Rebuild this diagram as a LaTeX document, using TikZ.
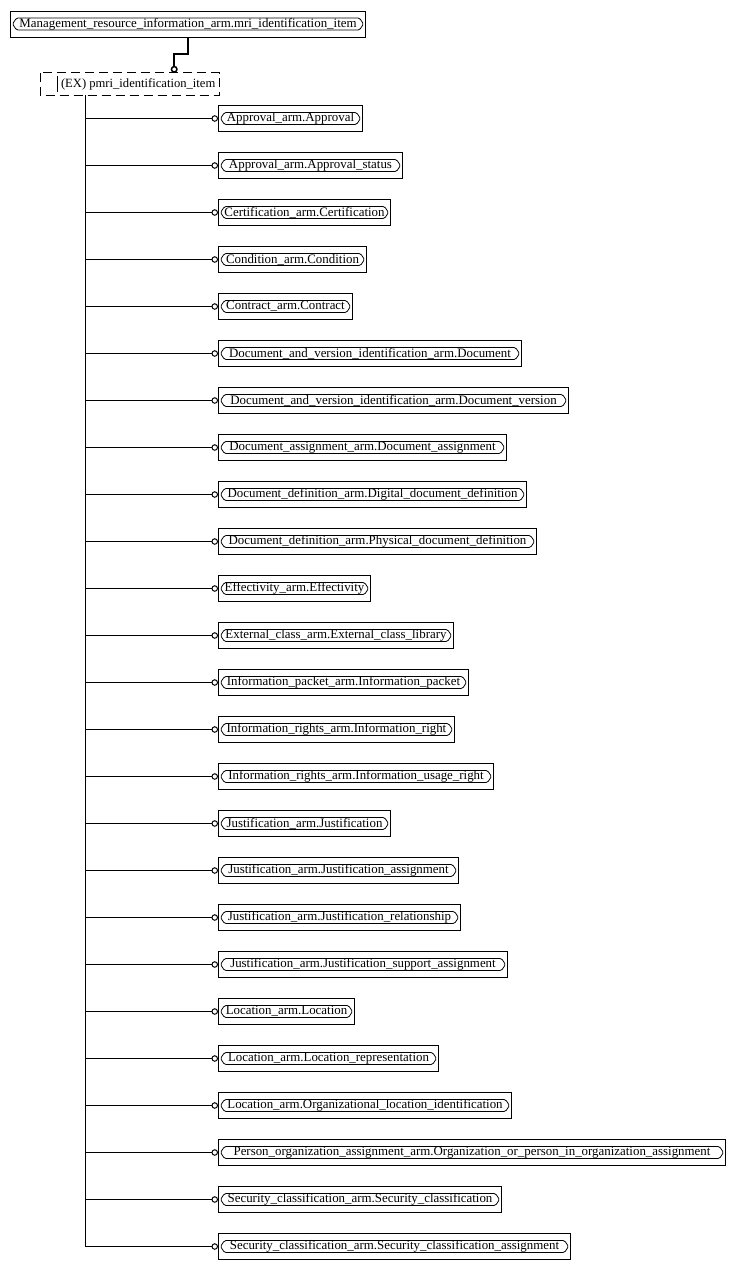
\documentclass[tikz,border=0pt]{standalone}
\usepackage{fontspec}
\setmainfont{Liberation Serif}
\usetikzlibrary{arrows.meta}

\begin{document}
\begin{tikzpicture}[x=1pt,y=-1pt]
			\tikzset{entity/.style={draw, rectangle, anchor=west, minimum height=26pt, inner sep=0pt, line width=1pt,
					font=\fontsize{12.9}{14}\selectfont,
					path picture={\draw[line width=0.8pt, rounded corners=1.5pt]
						([xshift=2pt]path picture bounding box.west) -- ([xshift=6pt,yshift=6pt]path picture bounding box.west)
						-- ([xshift=-6pt,yshift=6pt]path picture bounding box.east) -- ([xshift=-2pt]path picture bounding box.east)
						-- ([xshift=-6pt,yshift=-6pt]path picture bounding box.east) -- ([xshift=6pt,yshift=-6pt]path picture bounding box.west) -- cycle;}}}
			\tikzset{link/.style={line width=1pt, -{Circle[open, length=6.5pt, line width=1pt]}}}
			\useasboundingbox (0,0) rectangle (736,1269);
			%entities
			\node[entity, minimum width=355pt] (mri) at (10,24) {Management\_resource\_information\_arm.mri\_identification\_item};
			\node[anchor=west, inner sep=0pt, minimum width=162pt, minimum height=22pt, font=\fontsize{12.6}{14}\selectfont] (ex) at (57,84) {(EX) pmri\_identification\_item};
			\draw[line width=1pt, dash pattern=on 9pt off 5pt] ([xshift=-17pt]ex.north west) rectangle (ex.south east);
			\draw[line width=1pt] ([yshift=-3pt]ex.north west) -- ([yshift=3pt]ex.south west);
			\foreach \txt/\rt [count=\i, evaluate=\rt as \w using \rt-218] in {
					Approval\_arm.Approval/362,
					Approval\_arm.Approval\_status/402,
					Certification\_arm.Certification/390,
					Condition\_arm.Condition/366,
					Contract\_arm.Contract/352,
					Document\_and\_version\_identification\_arm.Document/521,
					Document\_and\_version\_identification\_arm.Document\_version/568,
					Document\_assignment\_arm.Document\_assignment/506,
					Document\_definition\_arm.Digital\_document\_definition/526,
					Document\_definition\_arm.Physical\_document\_definition/536,
					Effectivity\_arm.Effectivity/370,
					External\_class\_arm.External\_class\_library/453,
					Information\_packet\_arm.Information\_packet/468,
					Information\_rights\_arm.Information\_right/454,
					Information\_rights\_arm.Information\_usage\_right/493,
					Justification\_arm.Justification/390,
					Justification\_arm.Justification\_assignment/458,
					Justification\_arm.Justification\_relationship/460,
					Justification\_arm.Justification\_support\_assignment/507,
					Location\_arm.Location/354,
					Location\_arm.Location\_representation/438,
					Location\_arm.Organizational\_location\_identification/511,
					Person\_organization\_assignment\_arm.Organization\_or\_person\_in\_organization\_assignment/725,
					Security\_classification\_arm.Security\_classification/501,
					Security\_classification\_arm.Security\_classification\_assignment/570}
				\node[entity, minimum width=\w pt] (c\i) at (218,{118.5+47*(\i-1)}) {\txt};
			%connectors
			\coordinate (root) at (85,95);
			\draw[line width=2pt, -{Circle[open, length=7pt, line width=1.5pt]}] (mri.south) -- ++(0,16) -| ([xshift=36pt]ex.north);
			\draw[line width=1pt] (root) -- (root |- c25.west);
			\foreach \i in {1,...,25}
				\draw[link] (root |- c\i.west) -- (c\i.west);
\end{tikzpicture}
\end{document}
